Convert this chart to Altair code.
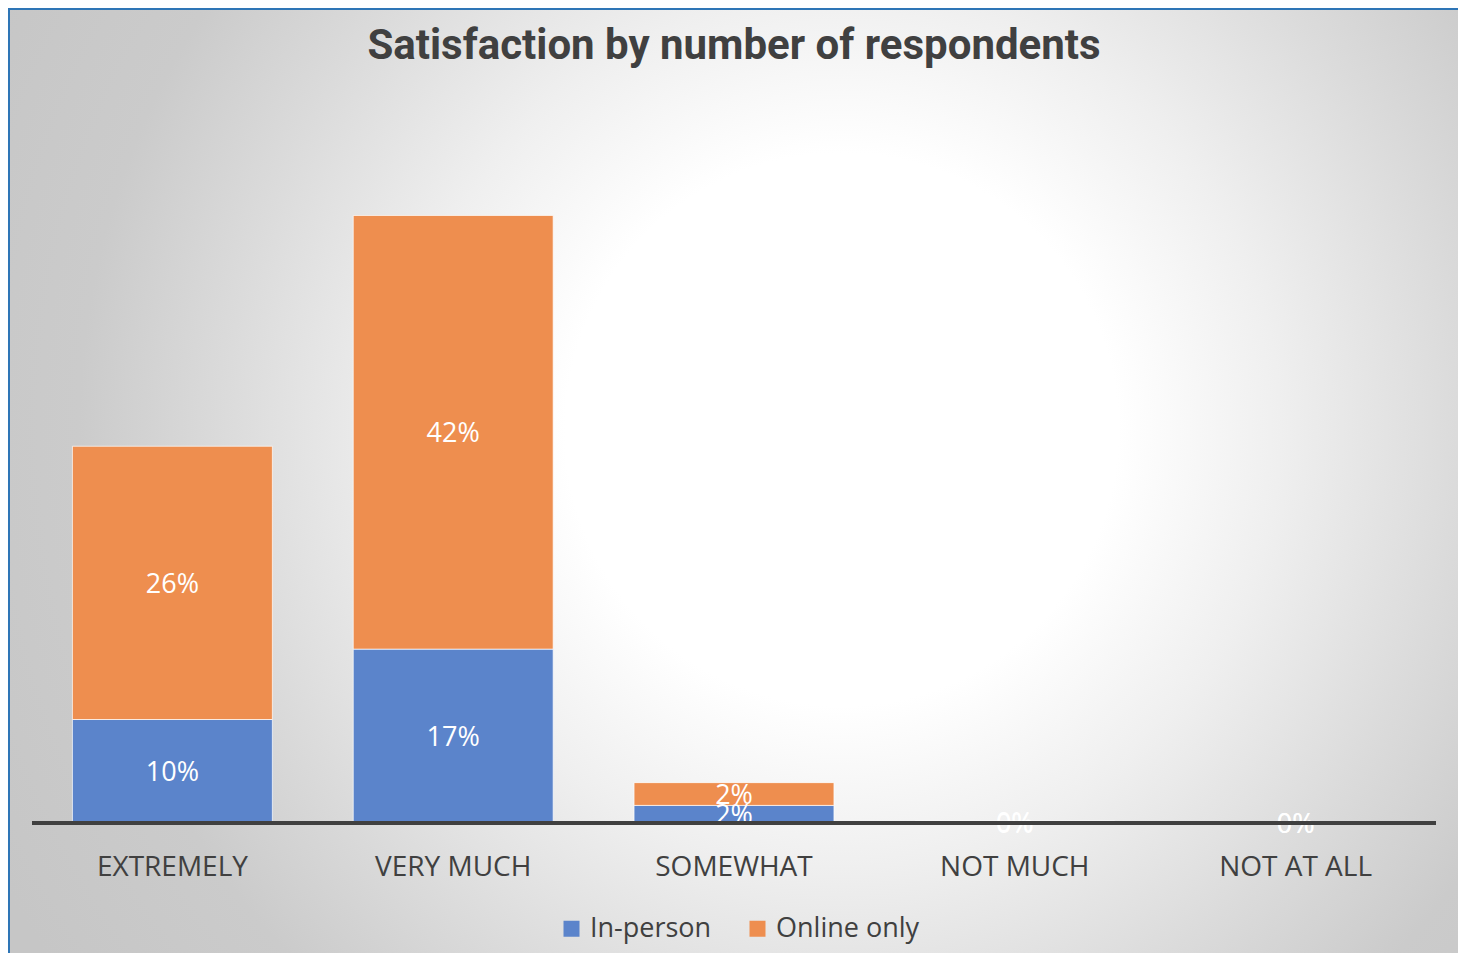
import altair as alt
import pandas as pd

TITLE = "Satisfaction by number of respondents"
categories = ["EXTREMELY", "VERY MUCH", "SOMEWHAT", "NOT MUCH", "NOT AT ALL"]
series = ["In-person", "Online only"]
in_person = [10.0, 16.8, 1.7, 0.0, 0.0]
online_only = [26.4, 41.9, 2.2, 0.2, 0.0]
colors = ["#5B84CB", "#EE8E4F"]

rows = []
for i, c in enumerate(categories):
    rows.append({"category": c, "series": series[0], "order": 0, "value": in_person[i]})
    rows.append({"category": c, "series": series[1], "order": 1, "value": online_only[i]})
df = pd.DataFrame(rows)

W, H = 1404, 621
PAD = {"left": 24, "top": 194, "right": 22, "bottom": 130}
TEXT = "#404040"

grad = alt.RadialGradient(
    gradient="radial",
    x1=0.571, y1=0.463, r1=0,
    x2=0.571, y2=0.463, r2=0.653,
    stops=[
        alt.GradientStop(color="#ffffff", offset=0),
        alt.GradientStop(color="#ffffff", offset=0.29),
        alt.GradientStop(color="#efefef", offset=0.46),
        alt.GradientStop(color="#dbdbdb", offset=0.645),
        alt.GradientStop(color="#cbcbcb", offset=0.8),
        alt.GradientStop(color="#c6c6c6", offset=1.0),
    ],
)

one = pd.DataFrame({"t": [TITLE]})

bg = alt.Chart(one).mark_rect(fill=grad, stroke="#2E75B6", strokeWidth=4).encode(
    x=alt.value(-PAD["left"]), x2=alt.value(W + PAD["right"] + 10),
    y=alt.value(-PAD["top"]), y2=alt.value(H + PAD["bottom"] + 6),
)

base = alt.Chart(df).transform_stack(
    stack="value", groupby=["category"], as_=["v0", "v1"],
    sort=[alt.SortField("order", order="ascending")],
).transform_calculate(
    mid="(datum.v0 + datum.v1) / 2", pct="datum.value / 100"
)

xenc = alt.X(
    "category:N", sort=categories,
    scale=alt.Scale(paddingInner=0.288, paddingOuter=0.144),
    axis=alt.Axis(title=None, labelAngle=0, ticks=False, domain=False,
                  labelFontSize=28, labelFont="Open Sans", labelColor=TEXT,
                  labelPadding=30, grid=False, zindex=1),
)
yscale = alt.Scale(domain=[0, 60], nice=False, zero=True)

bars = base.mark_bar(stroke="white", strokeWidth=1, strokeOpacity=0.7).encode(
    x=xenc,
    y=alt.Y("v0:Q", scale=yscale, axis=None),
    y2="v1:Q",
    color=alt.Color(
        "series:N", scale=alt.Scale(domain=series, range=colors),
        legend=alt.Legend(
            orient="none", legendX=526, legendY=713, direction="horizontal",
            title=None, symbolType="square", symbolSize=256, symbolStrokeWidth=0,
            labelFontSize=27, labelFont="Open Sans", labelColor=TEXT,
            labelOffset=5, columnPadding=32,
        ),
    ),
)

labels = base.mark_text(color="white", font="Open Sans", fontSize=27,
                        align="center", baseline="middle", dy=2).encode(
    x=alt.X("category:N", sort=categories),
    y=alt.Y("mid:Q", scale=yscale),
    text=alt.Text("pct:Q", format=".0%"),
)

baseline = alt.Chart(one).mark_rule(color="#404040", strokeWidth=4).encode(
    y=alt.datum(0), x=alt.value(0), x2=alt.value(W),
)

title = alt.Chart(one).mark_text(font="Roboto", fontWeight="bold", fontSize=42,
                                 color=TEXT, align="center", baseline="middle").encode(
    text="t:N", x=alt.value(W / 2), y=alt.value(-156),
)

chart = alt.layer(bg, bars, labels, baseline, title).properties(
    width=W, height=H,
    autosize=alt.AutoSizeParams(type="none"),
    padding=PAD,
).configure_view(stroke=None)

chart.save("out.html", embed_options={"renderer": "svg", "actions": False})
